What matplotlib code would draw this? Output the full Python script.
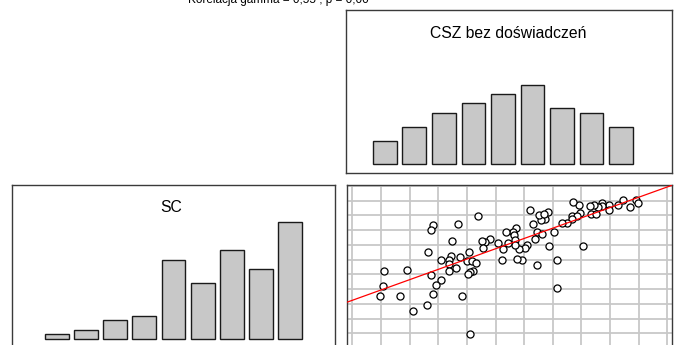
import matplotlib
matplotlib.use("Agg")
import matplotlib.pyplot as plt
import numpy as np

plt.rcParams["font.family"] = ["Liberation Sans", "DejaVu Sans"]

# histogram counts (N = 100) for the two variables
csz_counts = [5, 8, 11, 13, 15, 17, 12, 11, 8]
sc_counts = [1, 2, 4, 5, 17, 12, 19, 15, 25]

# scatter: CSZ (x) vs SC (y)
csz_x = [10.91, 10.96, 10.46, 10.70, 10.29, 9.97, 9.97, 9.71, 9.71, 9.56,
         9.42, 9.28, 9.32, 9.51, 8.95, 8.93, 8.69, 8.66, 8.86, 8.68,
         8.51, 8.31, 7.84, 7.73, 7.59, 7.53, 7.70, 7.20, 7.30, 7.46,
         7.63, 8.04, 7.36, 7.87, 9.07, 8.14, 7.44, 8.14, 7.09, 7.04,
         6.83, 6.91, 6.74, 6.70, 6.62, 6.65, 6.68, 6.68, 6.37, 6.45,
         6.27, 6.10, 6.24, 5.81, 5.63, 5.52, 5.57, 5.40, 4.70, 3.83,
         3.76, 4.47, 3.65, 5.09, 4.45, 4.76, 4.08, 4.38, 4.38, 4.99,
         5.17, 5.32, 4.62, 4.38, 5.23, 5.11, 5.05, 3.75, 4.11, 3.91,
         3.83, 4.84, 3.62, 3.13, 5.11, 2.11, 2.90, 2.06, 1.97, 2.65]
sc_y = [10.05, 9.82, 10.05, 9.59, 9.70, 9.70, 9.36, 9.86, 9.64, 9.59,
        9.70, 9.64, 9.07, 9.07, 9.18, 9.70, 9.89, 8.95, 8.95, 8.73,
        8.52, 8.52, 9.25, 8.73, 8.68, 9.05, 9.09, 9.36, 8.43, 7.89,
        7.77, 7.89, 7.43, 6.93, 6.93, 5.98, 5.66, 4.09, 7.02, 6.80,
        6.70, 5.95, 6.07, 8.16, 7.89, 7.66, 7.32, 6.98, 7.89, 7.14,
        6.70, 7.14, 5.98, 7.43, 7.20, 7.25, 6.82, 8.95, 8.43, 8.34,
        8.00, 7.25, 6.50, 6.50, 6.27, 6.18, 6.00, 5.95, 5.73, 5.89,
        5.89, 5.77, 5.45, 5.25, 5.25, 5.14, 5.02, 4.93, 4.61, 4.27,
        3.64, 3.55, 2.89, 2.48, 0.98, 5.23, 5.32, 4.18, 3.55, 3.55]

# fitted regression line
fit_intercept = 2.54
fit_slope = 0.70

title_text = "Korelacja gamma = 0,55 ; p = 0,00"

W, H = 674, 345
fig = plt.figure(figsize=(W / 100, H / 100), dpi=100)


def px_axes(left, top, right, bottom):
    return fig.add_axes([left / W, 1 - bottom / H, (right - left) / W, (bottom - top) / H])


frame_color = "#3a3a3a"
bar_face = "#c8c8c8"
bar_edge = "#1a1a1a"


def style_frame(ax):
    ax.set_xticks([])
    ax.set_yticks([])
    for s in ax.spines.values():
        s.set_color(frame_color)
        s.set_linewidth(1.0)


# top: histogram of CSZ
ax_top = px_axes(346, 10, 672, 173)
ax_top.bar(np.arange(len(csz_counts)), csz_counts, width=0.81,
           color=bar_face, edgecolor=bar_edge, linewidth=1.0)
ax_top.set_xlim(-1.32, 9.73)
ax_top.set_ylim(-1.9, 33.0)
style_frame(ax_top)
ax_top.text(0.497, 0.828, "CSZ bez doświadczeń", transform=ax_top.transAxes,
            ha="center", va="baseline", fontsize=11.3)

# bottom left: histogram of SC
ax_left = px_axes(12, 185, 335, 348)
ax_left.bar(np.arange(len(sc_counts)), sc_counts, width=0.82,
            color=bar_face, edgecolor=bar_edge, linewidth=1.0)
ax_left.set_xlim(-1.55, 9.55)
ax_left.set_ylim(-1.9, 33.0)
style_frame(ax_left)
ax_left.text(0.492, 0.834, "SC", transform=ax_left.transAxes,
             ha="center", va="baseline", fontsize=11.3)

# bottom right: scatter with regression line
ax_sc = px_axes(347, 185, 672, 348)
ax_sc.set_xlim(0.814, 12.16)
ax_sc.set_ylim(0, 11.07)
for gx in range(1, 13):
    ax_sc.axvline(gx, color="#c8c8c8", linewidth=1.3, zorder=1)
for gy in range(1, 12):
    ax_sc.axhline(gy, color="#c8c8c8", linewidth=1.3, zorder=1)
ax_sc.scatter(csz_x, sc_y, s=26, facecolor="white", edgecolor="black",
              linewidth=0.9, zorder=3)
xs = np.array(ax_sc.get_xlim())
ax_sc.plot(xs, fit_intercept + fit_slope * xs, color="red", linewidth=0.9, zorder=4)
style_frame(ax_sc)

fig.text(278 / W, 1 - 2.5 / H, title_text, ha="center", va="baseline", fontsize=8.5)

fig.savefig("out.png", dpi=100)
